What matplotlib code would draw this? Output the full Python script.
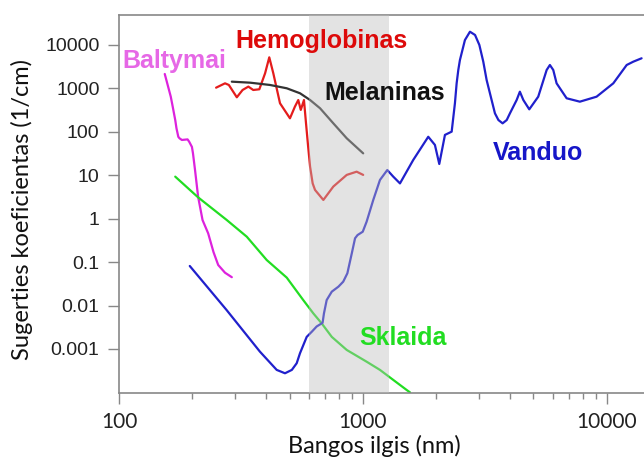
import matplotlib
matplotlib.use("Agg")
import matplotlib.pyplot as plt
from matplotlib.ticker import FixedLocator, NullFormatter, LogLocator

# absorption spectra (wavelength nm, coefficient 1/cm)
baltymai_nm = [154, 163, 166, 170, 172, 175, 177, 181, 191, 194, 199, 201, 205, 211, 220,
               232, 244, 255, 272, 290]
baltymai_val = [2150, 645, 380, 187, 121, 77, 71, 65, 67, 59, 45, 32, 13, 3.2, 0.93,
                0.46, 0.17, 0.086, 0.057, 0.045]

hemo_nm = [250, 272, 282, 304, 321, 339, 355, 376, 397, 413, 429, 457, 502, 526,
           543, 556, 573, 584, 596, 607, 622, 636, 688, 756, 858, 942, 1002]
hemo_val = [1040, 1310, 1200, 625, 920, 1100, 920, 955, 2230, 5200, 2230, 455, 205, 380,
            540, 320, 540, 160, 45.6, 15.8, 6.5, 4.6, 2.7, 5.5, 10.2, 12.1, 10.2]

mel_nm = [290, 345, 416, 487, 552, 607, 667, 756, 858, 1002]
mel_val = [1430, 1355, 1200, 1007, 773, 541, 349, 157, 71, 32]

skl_nm = [170, 211, 276, 334, 403, 487, 569, 626, 677, 745, 858, 1035, 1174, 1331, 1510, 1560]
skl_val = [9.3, 3.1, 0.94, 0.385, 0.112, 0.044, 0.0134, 0.0066, 0.0039, 0.0019,
           0.00095, 0.00051, 0.00033, 0.000194, 0.000114, 0.0001]

van_nm = [195, 276, 378, 443, 479, 511, 535, 552, 588, 617, 646, 683, 692, 710, 745,
          793, 830, 863, 900, 928, 950, 998, 1035, 1102, 1174, 1258, 1331, 1418, 1607,
          1852, 1972, 2055, 2168, 2310, 2382, 2421, 2459, 2497, 2618, 2745, 2880, 3000,
          3113, 3213, 3475, 3591, 3736, 3884, 4004, 4266, 4397, 4543, 4805, 5229, 5662,
          5838, 6026, 6219, 6836, 7745, 9070, 10620, 12050, 12830, 13870]
van_val = [0.0815, 0.0079, 0.00087, 0.00033, 0.000276, 0.00033, 0.00047, 0.0008, 0.0019,
           0.0025, 0.0033, 0.004, 0.0066, 0.0134, 0.0209, 0.0272, 0.0355, 0.0553, 0.16,
           0.354, 0.42, 0.502, 0.853, 2.7, 7.8, 13.2, 9.3, 6.5, 22.5, 77, 50, 18.2, 85,
           101, 455, 1313, 2656, 4500, 13000, 20200, 17000, 10000, 4130, 1560, 267, 187,
           157, 187, 267, 541, 840, 541, 330, 645, 2656, 3460, 2656, 1310, 593, 495, 645,
           1310, 3460, 4130, 4940]

window = (600, 1280)  # optical window
yticks = [0.001, 0.01, 0.1, 1, 10, 100, 1000, 10000]
ytick_labels = ["0.001", "0.01", "0.1", "1", "10", "100", "1000", "10000"]
xticks = [100, 1000, 10000]
xtick_labels = ["100", "1000", "10000"]

fig = plt.figure(figsize=(6.44, 4.59), dpi=100)
ax = fig.add_axes([0.1848, 0.1438, 0.8152, 0.8235])

lw = 1.6
style = dict(lw=lw, zorder=2, solid_joinstyle="round", solid_capstyle="round")
ax.plot(baltymai_nm, baltymai_val, color="#dd22dd", **style)
ax.plot(hemo_nm, hemo_val, color="#e41c1c", **style)
ax.plot(mel_nm, mel_val, color="#333333", **style)
ax.plot(skl_nm, skl_val, color="#22dd22", **style)
ax.plot(van_nm, van_val, color="#2020cc", **style)

ax.axvspan(window[0], window[1], color="#bdbdbd", alpha=0.42, lw=0, zorder=3)

ax.set_xscale("log")
ax.set_yscale("log")
ax.set_xlim(100, 14190)
ax.set_ylim(9.7e-5, 4.9e4)

ax.yaxis.set_major_locator(FixedLocator(yticks))
ax.set_yticklabels(ytick_labels)
ax.yaxis.set_minor_locator(FixedLocator([]))
ax.xaxis.set_major_locator(FixedLocator(xticks))
ax.set_xticklabels(xtick_labels)
ax.xaxis.set_minor_locator(LogLocator(base=10, subs=range(2, 10)))
ax.xaxis.set_minor_formatter(NullFormatter())

for lab in ax.get_yticklabels():
    lab.set_fontfamily("Liberation Sans")
    lab.set_fontsize(14)
    lab.set_color("#222222")
for lab in ax.get_xticklabels():
    lab.set_fontfamily("Lato")
    lab.set_fontsize(15)
    lab.set_color("#222222")

ax.tick_params(axis="y", which="major", length=8, width=1, color="#888888", pad=6)
ax.tick_params(axis="x", which="major", length=8, width=1, color="#888888", pad=6)
ax.tick_params(axis="x", which="minor", length=4, width=1, color="#888888")

ax.spines["right"].set_visible(False)
for s in ["left", "bottom", "top"]:
    ax.spines[s].set_color("#888888")
    ax.spines[s].set_linewidth(1.2)

font = dict(family="Liberation Sans", weight="bold", fontsize=18, ha="center",
            va="baseline", transform=ax.transAxes, zorder=5)
ax.text(0.105, 0.860, "Baltymai", color="#e668e6", **font)
ax.text(0.386, 0.913, "Hemoglobinas", color="#dd0a0a", **font)
ax.text(0.507, 0.775, "Melaninas", color="#111111", **font)
ax.text(0.798, 0.616, "Vanduo", color="#1616c8", **font)
ax.text(0.541, 0.127, "Sklaida", color="#22dd22", **font)

fig.text(0.5815, 0.012, "Bangos ilgis (nm)", family="Lato", fontsize=17,
         ha="center", va="baseline", color="#111111")
fig.text(0.034, 0.543, "Sugerties koeficientas (1/cm)", family="Lato", fontsize=17,
         ha="center", va="center", rotation=90, color="#111111")

fig.savefig("out.png", dpi=100)
